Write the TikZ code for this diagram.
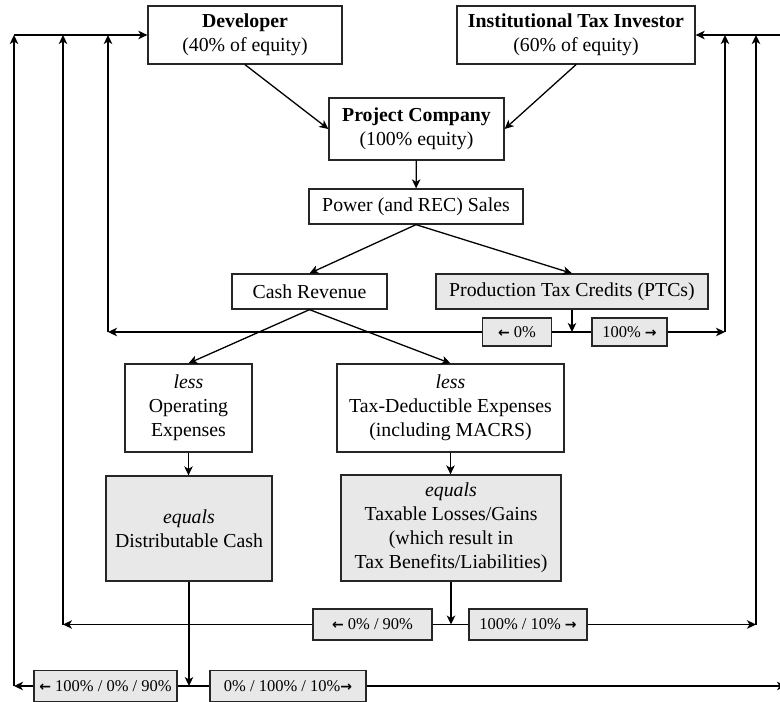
\documentclass[tikz,border=0pt]{standalone}
\usepackage{fontspec}
\setmainfont{Liberation Serif}
\newfontfamily\arrowfont[Scale=0.85]{DejaVu Sans}
\newcommand{\lar}{{\arrowfont\bfseries ←}}
\newcommand{\rar}{{\arrowfont\bfseries →}}
\usetikzlibrary{arrows.meta}

\begin{document}
\begin{tikzpicture}[x=1pt, y=-1pt,
    >={Stealth[length=9pt,width=8.5pt,inset=2.5pt]},
    line width=1.3pt,
    box/.style={draw=black!85, line width=1.3pt, align=center, inner sep=0pt,
                font=\fontsize{19.8}{24}\selectfont},
    grey/.style={box, fill=black!9},
    pct/.style={grey, font=\fontsize{16.5}{20}\selectfont}]

    \useasboundingbox (0,0) rectangle (780,702);

    \node[box, minimum width=194, minimum height=58] (dev) at (245,35) {\textbf{Developer}\\(40\% of equity)};
    \node[box, minimum width=238, minimum height=58] (inv) at (576,35) {\textbf{Institutional Tax Investor}\\(60\% of equity)};
    \node[box, minimum width=175, minimum height=62] (proj) at (416.5,129) {\textbf{Project Company}\\(100\% equity)};
    \node[box, minimum width=214, minimum height=35] (sales) at (416,206.5) {Power (and REC) Sales};

    \node[box, minimum width=155, minimum height=35] (cash) at (309.5,291.5) {Cash Revenue};
    \node[grey, minimum width=272, minimum height=35] (ptc) at (572,291.5) {Production Tax Credits (PTCs)};

    \node[box, minimum width=127, minimum height=88] (opex) at (188.5,408) {\textit{less}\\Operating\\Expenses};
    \node[box, minimum width=227, minimum height=88] (taxex) at (450.5,408) {\textit{less}\\Tax-Deductible Expenses\\(including MACRS)};
    \node[grey, minimum width=166, minimum height=105] (cashout) at (189,528.5) {\textit{equals}\\Distributable Cash};
    \node[grey, minimum width=220, minimum height=106] (taxout) at (451,528) {\textit{equals}\\Taxable Losses/Gains\\(which result in\\Tax Benefits/Liabilities)};

    % split boxes
    \node[pct, minimum width=69, minimum height=28] (ptcL) at (517,332) {\lar\ 0\%};
    \node[pct, minimum width=75, minimum height=28] (ptcR) at (629.5,332) {100\% \rar};
    \node[pct, minimum width=119, minimum height=31] (taxL) at (372.5,624.5) {\lar\ 0\% / 90\%};
    \node[pct, minimum width=118, minimum height=31] (taxR) at (528,624.5) {100\% / 10\% \rar};
    \node[pct, minimum width=143, minimum height=31] (cashL) at (105.5,686) {\lar\ 100\% / 0\% / 90\%};
    \node[pct, minimum width=156, minimum height=31] (cashR) at (288,686) {0\% / 100\% / 10\%\rar};

    \coordinate (j1) at (ptc.south |- ptcL);
    \coordinate (j2) at (taxout.south |- taxL);
    \coordinate (j3) at (cashout.south |- cashL);
    \coordinate (w1) at (14,0 |- j3);
    \coordinate (w2) at (63,0 |- j2);
    \coordinate (w3) at (108,0 |- j1);
    \coordinate (e3) at (725,0 |- j1);
    \coordinate (e2) at (756,0 |- j2);
    \coordinate (e1) at (786,0 |- j3);

    \draw[->] (dev.south) -- (proj.west);
    \draw[->] (inv.south) -- (proj.east);
    \draw[->] (proj) -- (sales);
    \draw[->] (sales.south) -- (cash.north);
    \draw[->] (sales.south) -- (ptc.north);
    \draw[->] (cash.south) -- (opex.north);
    \draw[->] (cash.south) -- (taxex.north);
    \draw[->] (opex.south) -- (opex.south |- cashout.north);
    \draw[->] (taxex.south) -- (taxex.south |- taxout.north);

    \draw[->] (ptc) -- (j1);
    \draw[->] (taxout) -- (j2);
    \draw[->] (cashout) -- (j3);

    \draw (j1) -- (ptcL.east);
    \draw (j1) -- (ptcR.west);
    \draw[->] (ptcL.west) -- (w3);
    \draw[->] (ptcR.east) -- (e3);
    \draw (j2) -- (taxL.east);
    \draw (j2) -- (taxR.west);
    \draw[->] (taxL.west) -- (w2);
    \draw[->] (taxR.east) -- (e2);
    \draw (j3) -- (cashL.east);
    \draw (j3) -- (cashR.west);
    \draw[->] (cashL.west) -- (w1);
    \draw[->] (cashR.east) -- (e1);

    \foreach \p in {w1, w2, w3}
        \draw[->] (\p) -- (\p |- dev.west);
    \foreach \p in {e2, e3}
        \draw[->] (\p) -- (\p |- inv.east);
    \draw[->] (w1 |- dev.west) -- (dev.west);
    \draw[->] (e1 |- inv.east) -- (inv.east);

\end{tikzpicture}
\end{document}
